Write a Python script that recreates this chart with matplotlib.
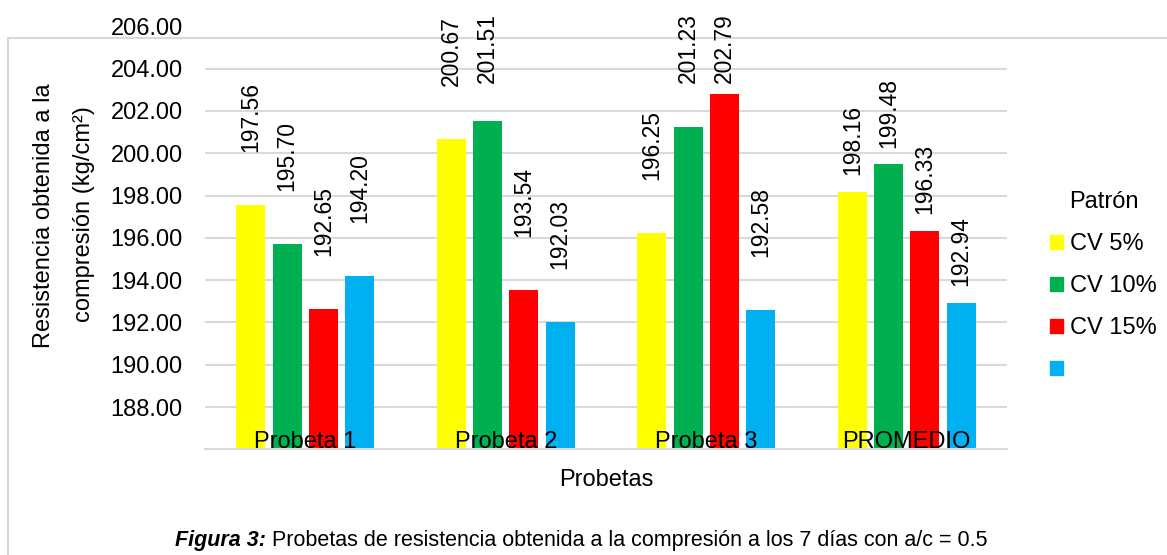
import matplotlib
matplotlib.use('Agg')
import matplotlib.pyplot as plt
import numpy as np
from matplotlib.patches import Rectangle

plt.rcParams['font.family'] = ['Liberation Sans', 'DejaVu Sans']

categories = ['Probeta 1', 'Probeta 2', 'Probeta 3', 'PROMEDIO']
series_names = ['CV 5%', 'CV 10%', 'CV 15%', '']
cv5 = [197.56, 200.67, 196.25, 198.16]
cv10 = [195.70, 201.51, 201.23, 199.48]
cv15 = [192.65, 193.54, 202.79, 196.33]
patron = [194.20, 192.03, 192.58, 192.94]
colors = ['#FFFF00', '#00B050', '#FF0000', '#00B0F0']

W, H, DPI = 1167, 555, 100
FS = 17
GRID = '#D9D9D9'

fig = plt.figure(figsize=(W / DPI, H / DPI), dpi=DPI)
ax = fig.add_axes([205 / W, (H - 449.3) / H, (1007 - 205) / W, (449.3 - 26.3) / H])
ax.patch.set_visible(False)

x = np.arange(len(categories))
step = 0.181
width = 0.145
series = [cv5, cv10, cv15, patron]
for i, (vals, col) in enumerate(zip(series, colors)):
    ax.bar(x + (i - 1.5) * step, vals, width, color=col, zorder=2)

ax.set_xlim(-0.5, 3.5)
ax.set_ylim(186, 206)
yt = np.arange(188, 207, 2)
ax.set_yticks(yt)
ax.set_yticklabels([f'{t:.2f}' for t in yt], fontsize=FS)
ax.set_xticks([])
ax.tick_params(axis='y', length=0, pad=16)
for t in yt[:-1]:
    ax.axhline(t, color=GRID, lw=1.5, zorder=0)
for s in ['top', 'right', 'left']:
    ax.spines[s].set_visible(False)
ax.spines['bottom'].set_color(GRID)
ax.spines['bottom'].set_linewidth(1.5)

# category names sit inside the plot on the base line
for xi, cat in zip(x, categories):
    ax.text(xi, 186.08, cat, ha='center', va='baseline', fontsize=FS, zorder=5)

# value labels, rotated, raised above each bar
gap_pts = [38, 38, 38, 12]
labels = []
for i, vals in enumerate(series):
    for j, v in enumerate(vals):
        a = ax.annotate(f'{v:.2f}', xy=(x[j] + (i - 1.5) * step, v),
                        xytext=(0, gap_pts[j]), textcoords='offset points',
                        rotation=90, ha='center', va='bottom',
                        fontsize=16.5, annotation_clip=False, zorder=6)
        labels.append(a)

fig.text(44 / W, 1 - 216 / H, 'Resistencia obtenida a la', rotation=90,
         ha='center', va='center', fontsize=FS)
fig.text(84 / W, 1 - 214 / H, 'compresión (kg/cm²)', rotation=90,
         ha='center', va='center', fontsize=FS)
fig.text(606 / W, 1 - 480 / H, 'Probetas', ha='center', va='center', fontsize=FS)

handles = [Rectangle((0, 0), 1, 1, color=c) for c in colors]
fig.legend(handles, series_names, title='Patrón', loc='upper left',
           bbox_to_anchor=(1050 / W, 1 - 191 / H), frameon=False,
           fontsize=FS, title_fontsize=FS, handlelength=0.55, handleheight=0.55,
           handletextpad=0.3, labelspacing=0.85, borderpad=0, borderaxespad=0)

# chart area border
fig.add_artist(Rectangle((8 / W, -0.1), 1.2, 0.1 + 1 - 38 / H,
                         transform=fig.transFigure, fill=False,
                         ec=GRID, lw=1.5, zorder=0))

cap1 = fig.text(175 / W, 1 - 530 / H, 'Figura 3:', fontsize=15.5,
                fontweight='bold', fontstyle='italic', va='top')

fig.canvas.draw()
r = fig.canvas.get_renderer()
bb = cap1.get_window_extent(r)
fig.text((bb.x1 + 6) / W, 1 - 530 / H,
         'Probetas de resistencia obtenida a la compresión a los 7 días con a/c = 0.5',
         fontsize=15.5, va='top')

# keep labels inside the chart area at the top
top_limit = H - 13
for a in labels:
    ext = a.get_window_extent(r)
    if ext.y1 > top_limit:
        dx, dy = a.xyann
        a.xyann = (dx, dy - (ext.y1 - top_limit) * 72 / DPI)

fig.savefig('out.png', dpi=DPI)
